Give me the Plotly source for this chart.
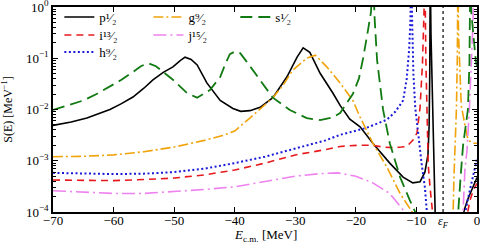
import plotly.graph_objects as go

# ---------------- data ----------------
EF = -5.6  # Fermi energy marker [MeV]

E_p = [-70, -67, -64.4, -62.5, -60.6, -58.7, -56.8, -55, -53.5, -51.8, -50.2, -49, -48.2, -47.2, -46.2,
       -44.6, -42.4, -40.3, -39, -37.5, -35.8, -33.7, -31.4, -29.7, -28.7, -27.6, -25.9, -23.8, -22.6,
       -21, -19.3, -17.2, -14.4, -12.2, -10.6, -9.4, -8.6, -8.1, -7.9, -7.8, -7.72, -7.6, -7.3, -7.0, -6.85,
       None, -2.6, -2.0, -1.5, -1.0, -0.5, 0]
S_p = [4.9e-3, 5.7e-3, 6.8e-3, 8.2e-3, 1.0e-2, 1.3e-2, 1.75e-2, 2.6e-2, 3.8e-2, 5.3e-2, 6.8e-2, 9e-2, 0.105, 0.095, 0.074,
       0.033, 0.015, 0.0105, 0.0092, 0.0095, 0.011, 0.017, 0.043, 0.105, 0.16, 0.13, 0.051, 0.021, 0.012,
       6.5e-3, 4.6e-3, 2.2e-3, 9e-4, 4.8e-4, 3.7e-4, 3.9e-4, 6e-4, 1.3e-3, 5e-3, 0.05, 5, 0.3, 0.01, 2e-4, 5e-5,
       None, 6e-5, 1.2e-4, 1.8e-4, 2.5e-4, 3.4e-4, 4.7e-4]

E_i = [-70, -65, -60, -55, -50, -45, -40, -35, -30, -25, -22.6, -19.8, -17.2, -15.5, -13.9, -12.5, -11.6,
       -10.6, -9.9, -9.4, -9.0, -8.75, -8.6, -8.45, -8.3, -8.05, -7.75, -7.48, -7.2, -7.0,
       None, -1.9, -1.65, -1.15, -0.6, 0]
S_i = [4.2e-4, 4.1e-4, 4.1e-4, 4.3e-4, 4.6e-4, 5.3e-4, 6.6e-4, 9e-4, 1.3e-3, 1.65e-3, 1.9e-3, 2e-3, 2e-3, 1.85e-3, 1.8e-3, 1.85e-3, 1.9e-3,
       2.5e-3, 3.5e-3, 1.1e-2, 0.08, 0.8, 5, 0.1, 0.01, 8.3e-4, 3e-4, 1.6e-4, 9e-5, 4e-5,
       None, 6e-5, 9e-5, 1.7e-4, 2.7e-4, 3.6e-4]

E_h = [-70, -65, -60, -55, -50, -45, -40, -35, -30, -25, -22.6, -20, -18.2, -16.5, -14.9, -13.5, -12.2,
       -11.6, -11.2, -11.0, -10.85, -10.7, -10.5, -10.2, -9.6, -9.1, -8.6, -8.3, -8.0,
       None, -2.2, -2.0, -1.5, -1.0, -0.5, -0.3, 0]
S_h = [5.8e-4, 5.6e-4, 5.5e-4, 5.6e-4, 6e-4, 7e-4, 9e-4, 1.2e-3, 1.75e-3, 2.5e-3, 3.2e-3, 3.8e-3, 4.4e-3, 5.3e-3, 6.3e-3, 9e-3, 0.015,
       0.04, 0.15, 0.5, 5, 0.5, 0.05, 0.011, 2.4e-3, 8e-4, 3e-4, 1e-4, 4e-5,
       None, 6e-5, 9e-5, 1.8e-4, 3.3e-4, 5.8e-4, 8.3e-4, 1.1e-3]

E_g = [-70, -65, -60, -55, -50, -45, -42, -40, -37.5, -35.5, -33.7, -32, -30.4, -28.1, -26.7, -24.8, -22.6,
       -20.5, -19.3, -17.2, -14.9, -12.7, -10.7, -10.2,
       None, -4.1, -3.95, -3.8, -3.63, -3.4, -3.25, -3.15, -3.05, -2.8, -2.6, -2.0, -1.5, -1.0, -0.5, 0]
S_g = [1.2e-3, 1.22e-3, 1.3e-3, 1.5e-3, 1.85e-3, 2.5e-3, 3.1e-3, 3.8e-3, 6.8e-3, 1.1e-2, 1.7e-2, 3e-2, 5.9e-2, 0.1, 0.115, 0.068, 0.033,
       0.015, 7.1e-3, 2.2e-3, 7.6e-4, 2.3e-4, 1e-4, 7e-5,
       None, 5e-5, 9e-5, 5e-4, 1.6e-3, 0.01, 0.1, 5, 0.3, 0.04, 0.012, 5e-3, 2.6e-3, 2.3e-3, 2.2e-3, 2.2e-3]

E_j = [-70, -65, -60, -55, -50, -45, -40, -35, -30, -26, -23, -20, -17.2, -14.4, -12.2, -11.3,
       None, -2.6, -2.3, -2.0, -1.65, -1.25, -0.9, -0.66, -0.55]
S_j = [2.6e-4, 2.45e-4, 2.3e-4, 2.3e-4, 2.5e-4, 2.75e-4, 3.1e-4, 3.9e-4, 5e-4, 5.6e-4, 5.8e-4, 5e-4, 3.7e-4, 2.3e-4, 1.1e-4, 7e-5,
       None, 5e-5, 1e-4, 6.6e-4, 1.6e-3, 0.011, 0.08, 0.5, 5]

E_s = [-70, -67.5, -65, -62.8, -60.6, -58.7, -56.8, -55.5, -54.3, -53, -51.8, -50.2, -47.9, -46.2, -44.1,
       -42.4, -41.5, -40.8, -40, -39.1, -38, -35.8, -33.7, -30.9, -28.1, -25.9, -23.8, -22.6, -20.5,
       -19.5, -18.8, -18, -17.5, -17.2, -16.9, -16.5, -15.5, -14.4, -12.7, -11.1, -10.2, -9.8,
       None, -3.4, -3.1, -2.7, -2.3, -1.9, -1.5, -1.25, -1.1, -0.95, -0.7, -0.4, -0.2, 0]
S_s = [9.8e-3, 1.2e-2, 1.5e-2, 2e-2, 2.8e-2, 3.8e-2, 5.4e-2, 7e-2, 8e-2, 7e-2, 5.4e-2, 3.8e-2, 2.1e-2, 1.7e-2, 2.4e-2,
       4.3e-2, 8e-2, 0.12, 0.135, 0.126, 0.085, 0.038, 0.017, 9.8e-3, 6.8e-3, 6.2e-3, 7e-3, 8.5e-3, 2e-2,
       4e-2, 0.1, 0.35, 0.8, 5, 0.6, 0.093, 9.8e-3, 2.2e-3, 4.8e-4, 1.7e-4, 1e-4, 7e-5,
       None, 5e-5, 1e-4, 5e-4, 2e-3, 4.5e-3, 0.01, 0.08, 5, 0.8, 0.35, 0.15, 0.09, 0.07]

x_ticks = [-70, -60, -50, -40, -30, -20, -10, 0]
y_ticks = [1e-4, 1e-3, 1e-2, 1e-1, 1]
y_ticktext = ["10<sup>−4</sup>", "10<sup>−3</sup>", "10<sup>−2</sup>", "10<sup>−1</sup>", "10<sup>0</sup>"]

# ---------------- styles ----------------
FONT = "Liberation Serif"
# name, E, S, colour, dash, width, legend id, legend (x, y) in paper coords
series = [
    ("p¹⁄₂", E_p, S_p, "#000000", "solid", 1.6, "legend", 0.015, 0.951),
    ("i¹³⁄₂", E_i, S_i, "#e8191c", "7px,5px", 1.6, "legend2", 0.015, 0.863),
    ("h⁹⁄₂", E_h, S_h, "#1a1ad8", "2px,2.5px", 2.0, "legend3", 0.015, 0.780),
    ("g⁹⁄₂", E_g, S_g, "#f0a30a", "10px,3px,2px,3px", 1.6, "legend4", 0.225, 0.951),
    ("j¹⁵⁄₂", E_j, S_j, "#ee82ee", "13px,4px,2px,4px", 1.6, "legend5", 0.225, 0.863),
    ("s¹⁄₂", E_s, S_s, "#127a12", "12px,6px", 1.8, "legend6", 0.43, 0.951),
]

fig = go.Figure()
legends = {}
for name, xs, ys, col, dash, w, lg, lx, ly in series:
    fig.add_trace(go.Scatter(x=xs, y=ys, mode="lines", name=name, legend=lg,
                             connectgaps=False,
                             line=dict(color=col, dash=dash, width=w)))
    legends[lg] = dict(x=lx, y=ly, xanchor="left", yanchor="middle",
                       bgcolor="rgba(0,0,0,0)", borderwidth=0, orientation="v",
                       font=dict(family=FONT, size=13, color="black"), itemwidth=30)

fig.add_vline(x=EF, line=dict(color="black", dash="dot", width=1.2))
fig.add_annotation(x=EF, y=0, xref="x", yref="paper", yanchor="top", yshift=0,
                   text="<i>ε</i><sub><i>F</i></sub>", showarrow=False,
                   font=dict(family=FONT, size=12, color="black"))
# x-axis title placed explicitly below the tick labels
fig.add_annotation(x=0.5, y=0, xref="paper", yref="paper", yanchor="middle", yshift=-23,
                   text="<i>E</i><sub>c.m.</sub> [MeV]", showarrow=False,
                   font=dict(family=FONT, size=13, color="black"))

axis_common = dict(showline=True, linecolor="black", linewidth=1.5, mirror="ticks",
                   ticks="inside", tickcolor="black", showgrid=False, zeroline=False,
                   automargin=False, ticklabeloverflow="allow",
                   tickfont=dict(family=FONT, size=13, color="black"))

fig.update_xaxes(range=[-70, 0], tickmode="array", tickvals=x_ticks, ticklen=5,
                 ticklabelstandoff=-4, **axis_common)
fig.update_yaxes(type="log", range=[-4, 0], tickmode="array", tickvals=y_ticks, ticktext=y_ticktext,
                 ticklen=5,
                 minor=dict(ticks="inside", ticklen=3, tickcolor="black", dtick="D1", showgrid=False),
                 title=dict(text="S(E) [MeV<sup>−1</sup>]",
                            font=dict(family=FONT, size=12, color="black")),
                 **axis_common)

fig.update_layout(
    width=480, height=244,
    margin=dict(l=53, r=3, t=7, b=32, autoexpand=False),
    paper_bgcolor="white", plot_bgcolor="white",
    showlegend=True,
    **legends,
)

fig.write_html("out.html", config={"displayModeBar": False},
               post_script="document.body.style.margin='0';")
